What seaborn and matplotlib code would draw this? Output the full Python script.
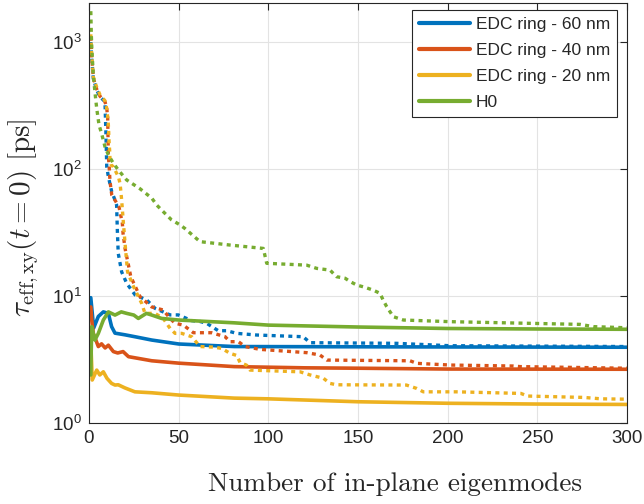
import numpy as np
import pandas as pd
import matplotlib
matplotlib.use("Agg")
import matplotlib.pyplot as plt
import seaborn as sns

sns.set_style("white")
plt.rcParams['font.family'] = ['Liberation Sans', 'DejaVu Sans']
plt.rcParams['mathtext.fontset'] = 'cm'

# ---------------- data ----------------
labels = ["EDC ring - 60 nm", "EDC ring - 40 nm", "EDC ring - 20 nm", "H0"]
colors = ["#0072BD", "#D95319", "#EDB120", "#77AC30"]

# solid lines
x60_s = [1, 2.6, 5.2, 8, 10.8, 12.6, 14.5, 20, 25.6, 35, 50, 81, 120, 200, 300]
y60_s = [9.7, 5.6, 6.9, 7.5, 7.3, 5.74, 5.1, 4.95, 4.78, 4.5, 4.19, 4.0, 3.99, 3.97, 3.95]

x40_s = [1, 1.5, 2.4, 5.2, 7, 9, 10.8, 13.6, 16, 19, 22, 35, 50, 81, 120, 150, 200, 300]
y40_s = [8.2, 6.5, 5.08, 4.0, 4.2, 3.9, 4.1, 3.65, 3.56, 3.65, 3.33, 3.09, 2.96, 2.78, 2.72, 2.7, 2.66, 2.65]

x20_s = [1, 1.8, 4.3, 6, 8, 10, 12.6, 14.5, 16.3, 20, 25.6, 35, 50, 81, 100, 150, 200, 250, 300]
y20_s = [4.37, 2.18, 2.61, 2.39, 2.53, 2.25, 2.05, 1.99, 2.0, 1.89, 1.76, 1.73, 1.66, 1.57, 1.55, 1.47, 1.43, 1.41, 1.40]

xH0_s = [1, 1.5, 3.3, 5.2, 8, 10.8, 14.5, 18, 21, 25, 27.5, 32, 35, 40.5, 50, 81, 100, 150, 200, 250, 300]
yH0_s = [2.39, 5.74, 4.5, 5.08, 6.47, 7.5, 7.08, 7.5, 7.3, 7.08, 6.66, 7.3, 7.08, 6.66, 6.47, 6.15, 5.9, 5.7, 5.55, 5.5, 5.47]

# dotted lines
x60_d = [1, 1.5, 2.4, 4.3, 6.1, 8.9, 9.4, 9.9, 10.8, 12.7, 14.5, 15.4, 15.8, 16.3, 18.2, 21, 25.7,
         32.2, 35, 36.8, 45.2, 49.8, 57.3, 61.9, 65.6, 72.1, 76.8, 82.4, 93.5, 119.4, 123.3, 171.6,
         201.3, 250, 300]
y60_d = [1000, 750, 517, 419, 371, 339, 200, 104, 87, 66, 57, 52, 33, 21.7, 15.5, 12.6, 10.2,
         9.3, 8.5, 8.0, 7.1, 7.1, 6.4, 6.3, 6.1, 5.33, 5.33, 5.08, 4.93, 4.78, 4.29, 4.24,
         4.06, 4.03, 4.0]

x40_d = [1, 1.5, 2.4, 4.3, 6.1, 8.9, 9.9, 10.4, 10.8, 11.2, 11.7, 12.7, 16.7, 18.6, 19.0, 20.1,
         23.3, 28.4, 35, 37.8, 41.4, 45.2, 48, 52.6, 58.2, 68.4, 75.9, 78.6, 83.3, 87, 95.4,
         121.4, 128.8, 132.6, 179, 182.8, 201.4, 236.7, 240.4, 300]
y40_d = [1100, 780, 520, 425, 375, 340, 300, 258, 125, 108, 80, 62.5, 50.5, 37.4, 31, 23.7,
         14.2, 9.9, 8.2, 8.0, 7.76, 6.66, 6.1, 5.9, 5.14, 5.14, 4.78, 4.37, 4.37, 4.0, 3.8,
         3.58, 3.43, 3.13, 3.09, 2.95, 2.86, 2.81, 2.78, 2.7]

x20_d = [1, 1.5, 2.4, 4.3, 6.1, 8.9, 9.9, 10.4, 10.8, 11.0, 11.2, 11.5, 11.7, 12.3, 13.6, 15,
         16.4, 17.3, 17.8, 18.2, 19.2, 20.1, 21.5, 24.4, 29.4, 31.2, 36.8, 41.4, 45.2, 48, 51.7,
         57.3, 61.9, 69.3, 74, 78.6, 82.4, 84.2, 87.9, 89.8, 117.7, 123.3, 130.7, 134.4, 138,
         177, 182.8, 186.4, 205, 240.8, 244.6, 276, 285.5, 300]
y20_d = [1150, 800, 530, 440, 385, 345, 300, 258, 222, 192, 164, 141, 121, 108, 104, 95,
         87, 77, 66, 57, 37.4, 26, 15.5, 12.2, 8.74, 7.3, 7.3, 6.66, 5.56, 5.08, 5.08,
         4.78, 4.0, 3.96, 3.87, 3.54, 3.4, 3.0, 2.85, 2.61, 2.53, 2.39, 2.25, 2.05, 2.0,
         1.99, 1.87, 1.76, 1.76, 1.71, 1.63, 1.59, 1.55, 1.54]

xH0_d = [1, 1.3, 1.6, 2.4, 3.3, 4.3, 5.6, 7, 8.9, 10.8, 13.6, 16.4, 21, 28.4, 35, 37.8, 40.5,
         46, 50.8, 53.5, 61.9, 78.6, 97.2, 99.1, 121.4, 127, 134.4, 138, 142.8, 145.6, 149.3,
         154, 158.6, 162.3, 164, 166, 169.7, 175.3, 201.3, 273.8, 281.3, 300]
yH0_d = [1750, 1136, 867, 550, 406, 300, 222, 191, 150, 129, 111, 98, 82, 70, 59, 52, 47.5,
         39.8, 36.3, 34, 26.8, 25.2, 23.7, 18.1, 17.5, 16.5, 16, 14.2, 13.8, 13, 12.2,
         11.7, 11.1, 10.5, 9.3, 8.24, 6.87, 6.47, 6.28, 5.98, 5.74, 5.62]

solid = [(x60_s, y60_s), (x40_s, y40_s), (x20_s, y20_s), (xH0_s, yH0_s)]
dotted = [(x60_d, y60_d), (x40_d, y40_d), (x20_d, y20_d), (xH0_d, yH0_d)]

xticks = [0, 50, 100, 150, 200, 250, 300]
yticks = [1, 10, 100, 1000]

# ---------------- figure ----------------
W, H = 644, 504
fig = plt.figure(figsize=(W / 100, H / 100), dpi=100)
ax = fig.add_axes([89 / W, (H - 423) / H, (627 - 89) / W, (423 - 3) / H])

handles = []
for (xs, ys), (xd, yd), c, lab in zip(solid, dotted, colors, labels):
    sns.lineplot(x=xs, y=ys, ax=ax, color=c, linewidth=2.6, sort=False,
                 estimator=None, legend=False)
    handles.append(ax.lines[-1])
    sns.lineplot(x=xd, y=yd, ax=ax, color=c, linewidth=2.4, sort=False,
                 estimator=None, legend=False, linestyle=(0, (1.2, 1.3)),
                 dash_capstyle='butt')
for h, lab in zip(handles, labels):
    h.set_label(lab)

ax.set_yscale('log')
ax.set_xlim(0, 300)
ax.set_ylim(1, 2030)
ax.set_xticks(xticks)
ax.set_yticks(yticks)
ax.yaxis.set_minor_locator(matplotlib.ticker.NullLocator())
ax.grid(True, which='major', color='#E3E3E3', linewidth=0.8)
ax.set_axisbelow(True)

for s in ax.spines.values():
    s.set_color('#262626')
    s.set_linewidth(0.8)
ax.tick_params(direction='in', top=True, right=True, length=5, width=0.8,
               color='#262626', labelcolor='#262626', labelsize=13.5, pad=5)

ax.set_xlabel('Number of in-plane eigenmodes', fontfamily='cmr10', fontsize=19.6,
              color='#262626', labelpad=14)
ax.xaxis.set_label_coords((395 - 89) / 538, -(484 - 423) / 420)
ax.xaxis.label.set_va('center')
ax.set_ylabel(r'$\tau_{\mathrm{eff,xy}}(t=0)\ [\mathrm{ps}]$', fontsize=21,
              color='#262626')
ax.yaxis.set_label_coords(-(89 - 24) / 538, (423 - 218) / 420)
ax.yaxis.label.set_va('center')

leg = ax.legend(handles=handles, loc='upper right', bbox_to_anchor=(0.981, 0.983),
                fontsize=12.5, frameon=True, fancybox=False, framealpha=1,
                edgecolor='#262626', borderpad=0.4, handlelength=2.9,
                handletextpad=0.35, labelspacing=0.62, borderaxespad=0)
leg.get_frame().set_linewidth(0.8)
for lh in leg.get_lines():
    lh.set_linewidth(3)

fig.savefig('out.png', dpi=100)
